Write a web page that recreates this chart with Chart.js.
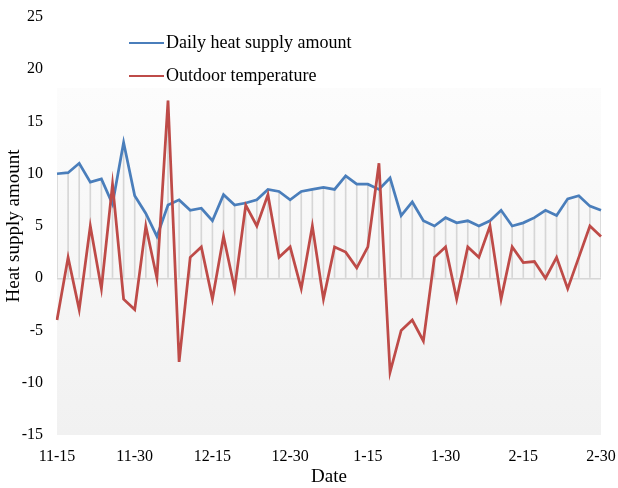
<!DOCTYPE html>
<html>
<head>
<meta charset="utf-8">
<script src="https://cdn.jsdelivr.net/npm/chart.js@4.4.1/dist/chart.umd.min.js"></script>
<style>
  body { margin: 0; background: #fff; }
  #wrap { width: 618px; height: 488px; }
</style>
</head>
<body>
<div id="wrap"><canvas id="heatChart" width="618" height="488"></canvas></div>
<script>
// values
const heatSupply = [10.0, 10.1, 11.0, 9.2, 9.5, 7.1, 13.0, 7.9, 6.2, 4.0,
                    7.0, 7.5, 6.5, 6.7, 5.5, 8.0, 7.0, 7.2, 7.5, 8.5,
                    8.3, 7.5, 8.3, 8.5, 8.7, 8.5, 9.8, 9.0, 9.0, 8.5,
                    9.6, 6.0, 7.3, 5.5, 5.0, 5.8, 5.3, 5.5, 5.0, 5.5,
                    6.5, 5.0, 5.3, 5.8, 6.5, 6.0, 7.6, 7.9, 6.9, 6.5];
const outdoorTemp = [-4, 2, -3, 5, -1, 9, -2, -3, 5, 0,
                     17, -8, 2, 3, -2, 4, -1, 7, 5, 8,
                     2, 3, -1, 5, -2, 3, 2.5, 1, 3, 11,
                     -9, -5, -4, -6, 2, 3, -2, 3, 2, 5,
                     -2, 3, 1.5, 1.6, 0, 2, -1, 2, 5, 4];
const tickLabels = ['11-15', '11-30', '12-15', '12-30', '1-15', '1-30', '2-15', '2-30'];
const seriesNames = ['Daily heat supply amount', 'Outdoor temperature'];

const categories = heatSupply.map((_, i) => i);
const dropTops = heatSupply.map((v, i) => Math.max(v, outdoorTemp[i]));
const labelStep = (categories.length - 1) / (tickLabels.length - 1);

const BLUE = '#4a7ebb';
const RED = '#be4b48';
const FONT = 'Liberation Serif';

// gradient plot background
const bgPlugin = {
    id: 'plotBg',
    beforeDraw(chart) {
        const { ctx, chartArea } = chart;
        const top = 88;
        const g = ctx.createLinearGradient(0, top, 0, chartArea.bottom);
        g.addColorStop(0, '#fcfcfc');
        g.addColorStop(1, '#f1f1f1');
        ctx.save();
        ctx.fillStyle = g;
        ctx.fillRect(chartArea.left, top, chartArea.right - chartArea.left, chartArea.bottom - top);
        ctx.restore();
    }
};

// legend drawn inside the plot, stacked
const legendPlugin = {
    id: 'innerLegend',
    afterDraw(chart) {
        const ctx = chart.ctx;
        const colors = [BLUE, RED];
        ctx.save();
        ctx.font = '18px "' + FONT + '"';
        ctx.textBaseline = 'middle';
        seriesNames.forEach((name, i) => {
            const y = 43 + i * 33;
            ctx.strokeStyle = colors[i];
            ctx.lineWidth = 2;
            ctx.beginPath();
            ctx.moveTo(129, y);
            ctx.lineTo(164, y);
            ctx.stroke();
            ctx.fillStyle = '#000';
            ctx.fillText(name, 166, y);
        });
        ctx.restore();
    }
};

const ctx = document.getElementById('heatChart').getContext('2d');
const heatChart = new Chart(ctx, {
    type: 'line',
    data: {
        labels: categories,
        datasets: [{
            type: 'line',
            label: seriesNames[1],
            data: outdoorTemp,
            borderColor: RED,
            borderWidth: 2.75,
            pointRadius: 0,
            tension: 0,
            order: 0
        }, {
            type: 'line',
            label: seriesNames[0],
            data: heatSupply,
            borderColor: BLUE,
            borderWidth: 2.75,
            pointRadius: 0,
            tension: 0,
            order: 1
        }, {
            type: 'bar',
            label: 'drop',
            data: dropTops,
            backgroundColor: '#d6d6d6',
            barThickness: 1,
            order: 2
        }]
    },
    options: {
        responsive: false,
        animation: false,
        devicePixelRatio: 1,
        layout: { padding: 0 },
        plugins: {
            legend: { display: false },
            tooltip: { enabled: false }
        },
        scales: {
            x: {
                offset: false,
                grid: { display: false, drawTicks: false },
                border: { display: false },
                afterFit(scale) {
                    scale.height = 53;
                    scale.paddingRight = 17;
                },
                ticks: {
                    autoSkip: false,
                    maxRotation: 0,
                    padding: 12,
                    color: '#000',
                    font: { family: FONT, size: 16 },
                    callback: (v, i) => (i % labelStep === 0 ? tickLabels[i / labelStep] : '')
                },
                title: {
                    display: true,
                    text: 'Date',
                    color: '#000',
                    font: { family: FONT, size: 19 },
                    padding: { top: 0, bottom: 0 }
                }
            },
            y: {
                min: -15,
                max: 25,
                afterFit(scale) {
                    scale.width = 57;
                    scale.paddingTop = 17;
                },
                ticks: {
                    stepSize: 5,
                    padding: 14,
                    color: '#000',
                    font: { family: FONT, size: 16 }
                },
                grid: {
                    drawTicks: false,
                    lineWidth: 1.5,
                    color: c => (c.tick && c.tick.value === 0 ? '#d6d6d6' : 'rgba(0,0,0,0)')
                },
                border: { display: false },
                title: {
                    display: true,
                    text: 'Heat supply amount',
                    color: '#000',
                    font: { family: FONT, size: 19, lineHeight: 1 },
                    padding: { top: 5, bottom: 0 }
                }
            }
        }
    },
    plugins: [bgPlugin, legendPlugin]
});
</script>
</body>
</html>
